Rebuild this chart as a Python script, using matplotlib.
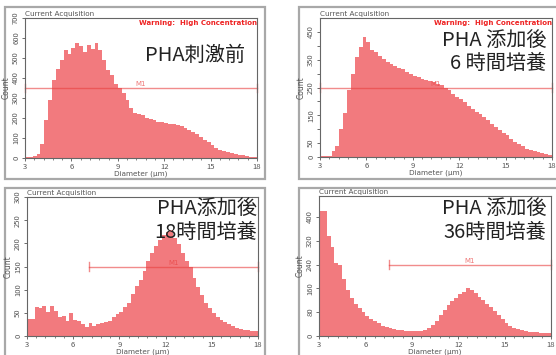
import matplotlib
matplotlib.use('Agg')
import matplotlib.pyplot as plt
import numpy as np
from matplotlib.patches import Rectangle
from matplotlib.ticker import MultipleLocator, FixedLocator, FuncFormatter

plt.rcParams['font.family'] = ['Noto Sans CJK JP', 'DejaVu Sans']

# bin edges: 3-18 um, 0.25 um width
edges = np.arange(3.0, 18.001, 0.25)

counts_pre = [5, 5, 8, 20, 70, 190, 290, 390, 445, 490, 540, 520, 550, 575, 560, 530,
              565, 545, 575, 540, 490, 440, 415, 370, 350, 325, 290, 250, 225, 220,
              215, 200, 195, 188, 182, 180, 175, 172, 168, 164, 158, 150, 140, 130, 118,
              104, 92, 80, 66, 52, 42, 36, 30, 25, 21, 17, 14, 10, 6, 3]
counts_6h = [2, 2, 4, 20, 40, 100, 160, 240, 300, 360, 395, 430, 415, 385, 378, 365,
             352, 342, 335, 328, 320, 315, 305, 298, 292, 287, 280, 276, 272, 269,
             264, 258, 250, 240, 225, 215, 208, 198, 185, 172, 163, 153, 143, 132, 120,
             108, 96, 88, 78, 66, 54, 45, 38, 30, 25, 21, 18, 14, 10, 7]
counts_18h = [37, 37, 62, 60, 64, 52, 65, 55, 42, 44, 32, 50, 34, 33, 25, 20,
              27, 22, 25, 27, 30, 33, 40, 47, 52, 62, 72, 90, 108, 120,
              140, 162, 180, 195, 208, 218, 225, 228, 212, 198, 180, 162, 148, 125, 105,
              88, 72, 60, 50, 42, 35, 30, 25, 22, 18, 15, 13, 12, 11, 10]
counts_36h = [418, 418, 335, 300, 245, 238, 190, 155, 128, 108, 95, 80, 68, 58, 50, 42,
              33, 30, 27, 24, 21, 20, 18, 17, 17, 17, 18, 20, 28, 38,
              52, 70, 88, 105, 118, 128, 140, 148, 160, 155, 145, 130, 120, 108, 96,
              85, 70, 58, 42, 35, 28, 24, 20, 18, 15, 13, 12, 11, 10, 9]

titles = [["PHA刺激前"], ["PHA 添加後", "6 時間培養"], ["PHA添加後", "18時間培養"], ["PHA 添加後", "36時間培養"]]
m1_levels = [350, 250, 150, 240]
m1_starts = [3.0, 3.0, 7.0, 7.5]
y_max = [700, 500, 300, 470]
y_ticks = [list(range(0, 701, 100)), list(range(0, 451, 50)), list(range(0, 301, 50)), list(range(0, 401, 80))]
warning = [True, True, False, False]

fill_color = '#f27a7e'
m1_color = '#e8403f'

fig = plt.figure(figsize=(5.56, 3.55), dpi=100)
W, H = 556, 355

# panel frame boxes and axes rectangles in pixels: (x0, y0, x1, y1)
frames = [(5, 7, 265, 179), (299, 7, 560, 179), (5, 188, 265, 360), (299, 188, 560, 360)]
axes_px = [(25, 18, 257, 158), (320, 18, 552, 157), (27, 197, 258, 336), (319, 196, 551, 336)]
title_pos = [(245, [55]), (546, [40, 63]), (257, [208, 232]), (546, [208, 232])]

all_counts = [counts_pre, counts_6h, counts_18h, counts_36h]

for i in range(4):
    fx0, fy0, fx1, fy1 = frames[i]
    fig.patches.append(Rectangle((fx0 / W, 1 - fy1 / H), (fx1 - fx0) / W, (fy1 - fy0) / H,
                                 transform=fig.transFigure, facecolor='white',
                                 edgecolor='#a8a8a8', linewidth=1.6, zorder=-5))
    x0, y0, x1, y1 = axes_px[i]
    ax = fig.add_axes([x0 / W, 1 - y1 / H, (x1 - x0) / W, (y1 - y0) / H])
    ax.set_zorder(2)
    ax.stairs(all_counts[i], edges, fill=True, color=fill_color, linewidth=0)
    ax.set_xlim(3, 18)
    ax.set_ylim(0, y_max[i])
    ax.set_xticks([3, 6, 9, 12, 15, 18])
    ax.xaxis.set_minor_locator(MultipleLocator(0.6))
    ax.yaxis.set_major_locator(FixedLocator(y_ticks[i]))
    if i == 1:
        ax.yaxis.set_major_formatter(FuncFormatter(lambda v, p: '' if v in (100, 200, 300, 400) else f'{int(v)}'))
    ax.tick_params(axis='both', which='major', labelsize=5.5, length=2.5, width=0.6,
                   colors='#555555', pad=1)
    ax.tick_params(axis='both', which='minor', length=1.5, width=0.5, colors='#555555')
    for lab in ax.get_yticklabels():
        lab.set_rotation(90)
        lab.set_va('center')
    for sp in ax.spines.values():
        sp.set_color('#666666')
        sp.set_linewidth(0.8)
    ax.set_xlabel('Diameter (µm)', fontsize=5.2, color='#555555', labelpad=-0.5, family='DejaVu Sans')
    ax.set_ylabel('Count', fontsize=5.5, color='#555555', labelpad=1, family='DejaVu Sans')
    ax.text(0.0, 1.01, 'Current Acquisition', transform=ax.transAxes, fontsize=5.2,
            color='#555555', family='DejaVu Sans', va='bottom', ha='left')
    if warning[i]:
        ax.text(1.0, 0.985, 'Warning:  High Concentration', transform=ax.transAxes,
                fontsize=5, color='#ee2222', fontweight='bold', family='DejaVu Sans',
                va='top', ha='right')

    # M1 marker
    lv, xs = m1_levels[i], m1_starts[i]
    ax.plot([xs, 18], [lv, lv], color=m1_color, alpha=0.6, linewidth=1.0, clip_on=False)
    cap = y_max[i] * 0.03
    for xc in (xs, 18):
        ax.plot([xc, xc], [lv - cap, lv + cap], color=m1_color, alpha=0.6, linewidth=1.0,
                clip_on=False)
    ax.text((xs + 18) / 2, lv + y_max[i] * 0.005, 'M1', fontsize=5, color=m1_color, alpha=0.7,
            ha='center', va='bottom', family='DejaVu Sans')

    # panel caption
    xr, ys = title_pos[i]
    for line, yy in zip(titles[i], ys):
        fig.text(xr / W, 1 - yy / H, line, fontsize=14.5, color='#222222',
                 ha='right', va='center', zorder=5)

fig.savefig('out.png', dpi=100)
